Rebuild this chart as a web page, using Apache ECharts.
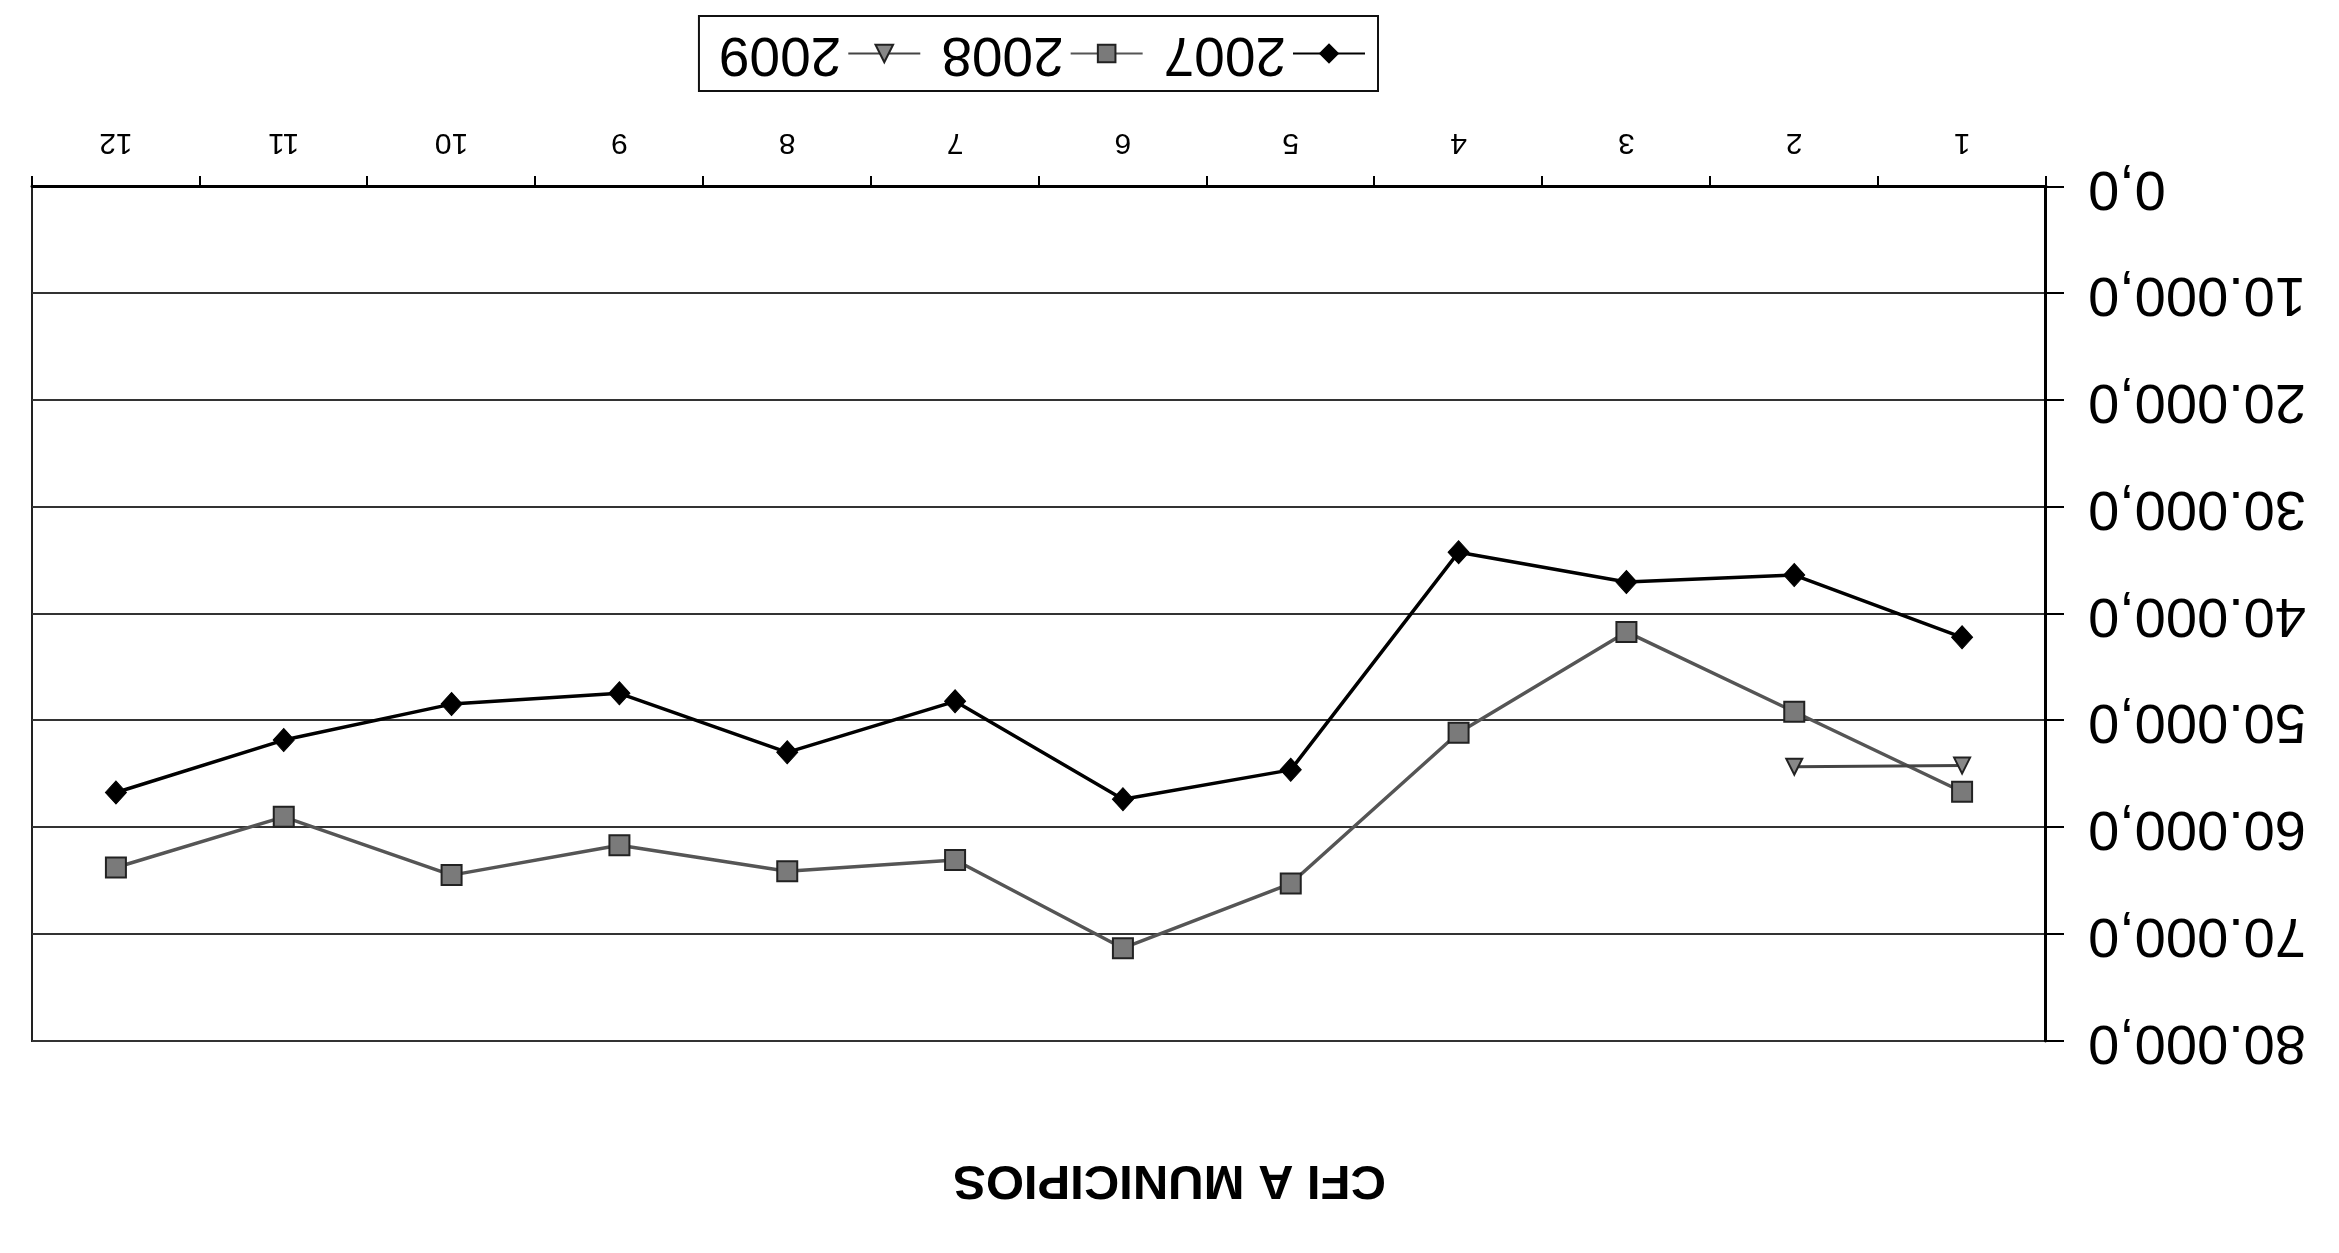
<!DOCTYPE html>
<html>
<head>
<meta charset="utf-8">
<script src="https://cdn.jsdelivr.net/npm/echarts@6/dist/echarts.min.js"></script>
<style>
html,body{margin:0;padding:0;background:#fff;overflow:hidden;}
#chart{width:2339px;height:1253px;transform:rotate(180deg);transform-origin:50% 50%;}
</style>
</head>
<body>
<div id="chart"></div>
<script>
// Data
const categories = ['1','2','3','4','5','6','7','8','9','10','11','12'];
const s2007 = [42180, 36350, 37010, 34210, 54600, 57350, 48180, 52960, 47430, 48440, 51810, 56720];
const s2008 = [56650, 49160, 41680, 51120, 65250, 71310, 63040, 64100, 61660, 64460, 59000, 63750];
const s2009 = [54200, 54300, null, null, null, null, null, null, null, null, null, null];
const seriesNames = ['2007', '2008', '2009'];
const titleText = 'CFI A MUNICIPIOS';

function fmt(v) {
  const s = Math.round(v).toString().replace(/\B(?=(\d{3})+(?!\d))/g, '.');
  return s + ',0';
}

const FONT = "'Liberation Sans', Arial, sans-serif";
const chart = echarts.init(document.getElementById('chart'), null, {renderer: 'canvas'});
chart.setOption({
  backgroundColor: '#ffffff',
  animation: false,
  title: {
    text: titleText,
    left: 'center',
    top: 44,
    textStyle: {fontFamily: FONT, fontSize: 49, fontWeight: 'bold', color: '#000'}
  },
  legend: {
    data: seriesNames,
    left: 961,
    top: 1162,
    padding: [10, 20, 10, 12],
    itemGap: 20,
    itemWidth: 72,
    itemHeight: 22,
    borderColor: '#111',
    borderWidth: 2,
    textStyle: {fontFamily: FONT, fontSize: 55, color: '#000', padding: [0, 0, 0, 2]}
  },
  grid: {
    left: 293, right: 32, top: 212, bottom: 187,
    show: true,
    borderColor: '#222',
    borderWidth: 2,
    containLabel: false
  },
  xAxis: {
    type: 'category',
    data: categories,
    boundaryGap: true,
    axisLine: {show: true, lineStyle: {color: '#000', width: 3}},
    axisTick: {show: true, inside: false, length: 11, alignWithLabel: false, lineStyle: {color: '#000', width: 2}},
    axisLabel: {fontFamily: FONT, fontSize: 30, color: '#000', margin: 30}
  },
  yAxis: {
    type: 'value',
    min: 0, max: 80000, interval: 10000,
    axisLine: {show: true, lineStyle: {color: '#000', width: 3}},
    axisTick: {show: true, inside: false, length: 18, lineStyle: {color: '#000', width: 2}},
    axisLabel: {fontFamily: FONT, fontSize: 56, color: '#000', margin: 42, formatter: fmt},
    splitLine: {show: true, lineStyle: {color: '#333', width: 2}}
  },
  series: [
    {
      name: seriesNames[0], type: 'line', data: s2007,
      symbol: 'diamond', symbolSize: [21, 23],
      lineStyle: {color: '#000', width: 3.5},
      itemStyle: {color: '#000', borderColor: '#000', borderWidth: 1}
    },
    {
      name: seriesNames[1], type: 'line', data: s2008,
      symbol: 'rect', symbolSize: [20, 20],
      lineStyle: {color: '#555', width: 3.5},
      itemStyle: {color: '#7a7a7a', borderColor: '#222', borderWidth: 2}
    },
    {
      name: seriesNames[2], type: 'line', data: s2009,
      symbol: 'triangle', symbolSize: [16, 16],
      connectNulls: false,
      lineStyle: {color: '#444', width: 3},
      itemStyle: {color: '#888', borderColor: '#222', borderWidth: 2}
    }
  ]
});
</script>
</body>
</html>
